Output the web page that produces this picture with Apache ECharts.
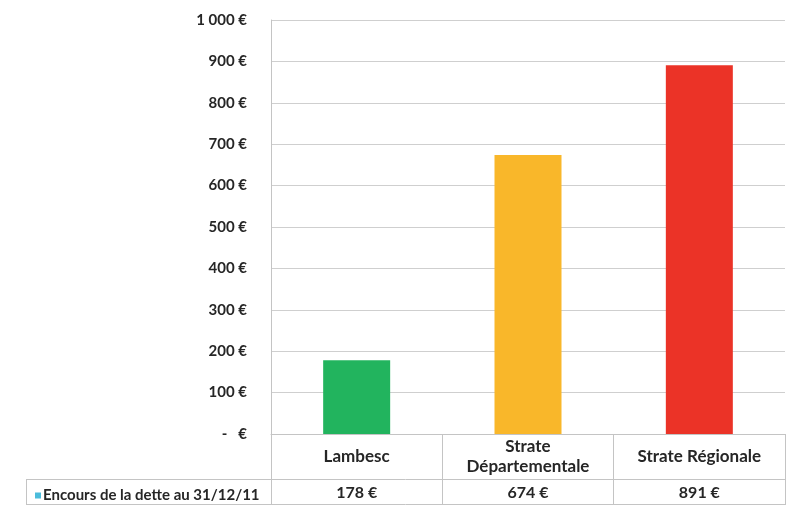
<!DOCTYPE html>
<html>
<head>
<meta charset="utf-8">
<title>Encours de la dette</title>
<style>
    html,body{margin:0;padding:0;background:#fff;}
    #chart{width:792px;height:507px;}
</style>
</head>
<body>
<div id="chart"></div>
<script src="https://cdn.jsdelivr.net/npm/echarts@6/dist/echarts.min.js"></script>
<script>
    // données
    var categories = ['Lambesc', 'Strate\nDépartementale', 'Strate Régionale'];
    var values = [178, 674, 891];
    var barColors = ['#22B45E', '#F9B72A', '#EB3327'];
    var seriesName = 'Encours de la dette au 31/12/11';
    var yTicks = [0, 100, 200, 300, 400, 500, 600, 700, 800, 900, 1000];

    var font = "Lato, 'Open Sans', sans-serif";
    var textColor = '#262626';
    var lineColor = '#c4c4c4';

    function euro(v) {
        if (v === 0) return '-   €';
        if (v >= 1000) return Math.floor(v / 1000) + ' ' + String(v % 1000).padStart(3, '0') + ' €';
        return v + ' €';
    }

    var myChart = echarts.init(document.getElementById('chart'));
    var option = {
        animation: false,
        textStyle: {fontFamily: font},
        grid: {left: 271, right: 7, top: 20, bottom: 73},
        legend: {
            data: [seriesName],
            left: 30, top: 483,
            icon: 'rect', itemWidth: 6, itemHeight: 6, itemGap: 0,
            textStyle: {fontSize: 15, fontWeight: 'bold', color: textColor, fontFamily: font, padding: [0, 0, 0, -3]}
        },
        xAxis: [{
            type: 'category',
            data: categories,
            axisLine: {show: true, lineStyle: {color: lineColor}},
            axisTick: {show: true, length: 71, lineStyle: {color: lineColor}},
            axisLabel: {
                margin: 23, verticalAlign: 'middle', lineHeight: 20,
                fontSize: 17, fontWeight: 'bold', color: textColor, fontFamily: font
            },
            splitLine: {show: false}
        }, {
            type: 'category',
            position: 'bottom',
            data: values.map(euro),
            axisLine: {show: false},
            axisTick: {show: false},
            axisLabel: {
                margin: 59, verticalAlign: 'middle',
                fontSize: 16, fontWeight: 'bold', color: textColor, fontFamily: font
            }
        }],
        yAxis: {
            type: 'value',
            min: yTicks[0], max: yTicks[yTicks.length - 1], interval: 100,
            axisLine: {show: true, lineStyle: {color: lineColor}},
            axisTick: {show: false},
            axisLabel: {
                margin: 24, fontSize: 15, fontWeight: 'bold', color: textColor, fontFamily: font,
                formatter: euro
            },
            splitLine: {lineStyle: {color: '#cfcfcf', width: 1}}
        },
        series: [{
            name: seriesName,
            type: 'bar',
            xAxisIndex: 0,
            barWidth: 67,
            itemStyle: {color: '#4BBCDB'},
            data: values.map(function (v, i) {
                return {value: v, itemStyle: {color: barColors[i]}};
            })
        }],
        // bordures du tableau de données
        graphic: [
            {type: 'line', shape: {x1: 26, y1: 479.5, x2: 785, y2: 479.5}, style: {stroke: lineColor, lineWidth: 1}},
            {type: 'line', shape: {x1: 26, y1: 504.5, x2: 785, y2: 504.5}, style: {stroke: lineColor, lineWidth: 1}},
            {type: 'line', shape: {x1: 26.5, y1: 479, x2: 26.5, y2: 505}, style: {stroke: lineColor, lineWidth: 1}},
            {type: 'line', shape: {x1: 271.5, y1: 434, x2: 271.5, y2: 505}, style: {stroke: lineColor, lineWidth: 1}}
        ]
    };
    myChart.setOption(option);
</script>
</body>
</html>
